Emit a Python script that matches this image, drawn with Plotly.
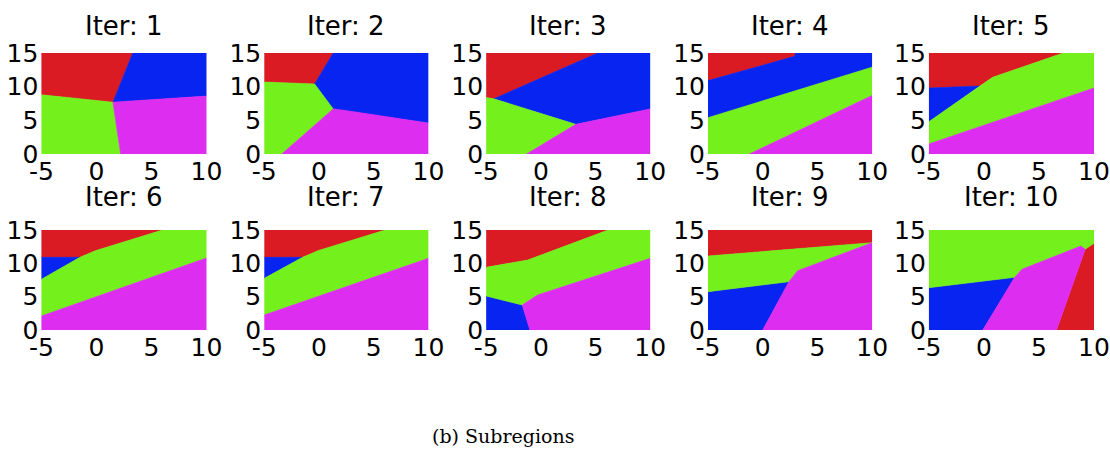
import plotly.graph_objects as go

# ---------------- data: region polygons (data coordinates) per iteration ----------------
it1_red = [(-5, 15), (3.3, 15), (1.5, 7.7), (-5, 8.8)]
it1_blue = [(3.3, 15), (10, 15), (10, 8.6), (1.5, 7.7)]
it1_green = [(-5, 8.8), (1.5, 7.7), (2.2, 0), (-5, 0)]
it1_magenta = [(1.5, 7.7), (10, 8.6), (10, 0), (2.2, 0)]

it2_red = [(-5, 15), (1.3, 15), (-0.4, 10.4), (-5, 10.7)]
it2_blue = [(1.3, 15), (10, 15), (10, 4.6), (2.3, 6.5), (1.3, 6.7), (-0.4, 10.4)]
it2_green = [(-5, 10.7), (-0.4, 10.4), (1.3, 6.7), (-3.4, 0), (-5, 0)]
it2_magenta = [(1.3, 6.7), (2.3, 6.5), (10, 4.6), (10, 0), (-3.4, 0)]

it3_red = [(-5, 15), (5.2, 15), (-4.3, 8.2), (-5, 8.4)]
it3_blue = [(5.2, 15), (10, 15), (10, 6.7), (3.2, 4.4), (-4.3, 8.2)]
it3_green = [(-5, 8.4), (-4.3, 8.2), (3.2, 4.4), (-1.3, 0), (-5, 0)]
it3_magenta = [(3.2, 4.4), (10, 6.7), (10, 0), (-1.3, 0)]

it4_red = [(-5, 15), (3.0, 15), (2.9, 14.5), (-5, 10.9)]
it4_blue = [(-5, 10.9), (2.9, 14.5), (3.0, 15), (10, 15), (10, 12.9), (-5, 5.4)]
it4_green = [(-5, 5.4), (10, 12.9), (10, 8.7), (-1.2, 0), (-5, 0)]
it4_magenta = [(-1.2, 0), (10, 8.7), (10, 0)]

it5_red = [(-5, 15), (7.2, 15), (0.8, 11.4), (-0.4, 10.1), (-5, 9.8)]
it5_blue = [(-5, 9.8), (-0.4, 10.1), (-5, 4.8)]
it5_green = [(-5, 4.8), (-0.4, 10.1), (0.8, 11.4), (7.2, 15), (10, 15), (10, 9.8), (-5, 1.5)]
it5_magenta = [(-5, 1.5), (10, 9.8), (10, 0), (-5, 0)]

it6_red = [(-5, 15), (6.0, 15), (-0.1, 11.9), (-1.5, 10.9), (-5, 10.9)]
it6_blue = [(-5, 10.9), (-1.5, 10.9), (-5, 7.6)]
it6_green = [(-5, 7.6), (-1.5, 10.9), (-0.1, 11.9), (6.0, 15), (10, 15), (10, 10.8), (-5, 2.1)]
it6_magenta = [(-5, 2.1), (10, 10.8), (10, 0), (-5, 0)]

it7_red = [(-5, 15), (6.05, 15), (-0.1, 11.9), (-1.5, 10.9), (-5, 10.9)]
it7_blue = [(-5, 10.9), (-1.5, 10.9), (-5, 7.75)]
it7_green = [(-5, 7.75), (-1.5, 10.9), (-0.1, 11.9), (6.05, 15), (10, 15), (10, 10.75), (-5, 2.25)]
it7_magenta = [(-5, 2.25), (10, 10.75), (10, 0), (-5, 0)]

it8_red = [(-5, 15), (6.15, 15), (-1.2, 10.5), (-5, 9.4)]
it8_green = [(-5, 9.4), (-1.2, 10.5), (6.15, 15), (10, 15), (10, 10.75), (-0.3, 5.25), (-1.7, 3.75), (-5, 5.1)]
it8_blue = [(-5, 5.1), (-1.7, 3.75), (-1.0, 0), (-5, 0)]
it8_magenta = [(-1.7, 3.75), (-0.3, 5.25), (10, 10.75), (10, 0), (-1.0, 0)]

it9_red = [(-5, 15), (10, 15), (10, 13.1), (-5, 11.1)]
it9_green = [(-5, 11.1), (10, 13.1), (3.2, 8.9), (2.4, 7.25), (-5, 5.75)]
it9_blue = [(-5, 5.75), (2.4, 7.25), (0.0, 0), (-5, 0)]
it9_magenta = [(2.4, 7.25), (3.2, 8.9), (10, 13.1), (10, 0), (0.0, 0)]

it10_green = [(-5, 15), (10, 15), (10, 13.0), (9.2, 12.1), (8.8, 12.6), (3.45, 9.1), (2.8, 7.9), (-5, 6.35)]
it10_blue = [(-5, 6.35), (2.8, 7.9), (-0.1, 0), (-5, 0)]
it10_magenta = [(2.8, 7.9), (3.45, 9.1), (8.8, 12.6), (9.2, 12.1), (6.6, 0), (-0.1, 0)]
it10_red = [(9.2, 12.1), (10, 13.0), (10, 0), (6.6, 0)]

iterations = [1, 2, 3, 4, 5, 6, 7, 8, 9, 10]
x_ticks = [-5, 0, 5, 10]
x_tick_text = ["-5", "0", "5", "10"]
y_ticks = [0, 5, 10, 15]
y_tick_text = ["0", "5", "10", "15"]
caption = "(b) Subregions"

regions = [
    {"red": it1_red, "blue": it1_blue, "green": it1_green, "magenta": it1_magenta},
    {"red": it2_red, "blue": it2_blue, "green": it2_green, "magenta": it2_magenta},
    {"red": it3_red, "blue": it3_blue, "green": it3_green, "magenta": it3_magenta},
    {"red": it4_red, "blue": it4_blue, "green": it4_green, "magenta": it4_magenta},
    {"red": it5_red, "blue": it5_blue, "green": it5_green, "magenta": it5_magenta},
    {"red": it6_red, "blue": it6_blue, "green": it6_green, "magenta": it6_magenta},
    {"red": it7_red, "blue": it7_blue, "green": it7_green, "magenta": it7_magenta},
    {"red": it8_red, "blue": it8_blue, "green": it8_green, "magenta": it8_magenta},
    {"red": it9_red, "blue": it9_blue, "green": it9_green, "magenta": it9_magenta},
    {"red": it10_red, "blue": it10_blue, "green": it10_green, "magenta": it10_magenta},
]

# ---------------- styles / layout ----------------
COLORS = {"red": "#da1b24", "blue": "#0824f0", "green": "#74f01c", "magenta": "#dd2df0"}
W, H = 1110, 450
# the rendered plotting area occupies screen px x 18..1086, y 14..435
PX0, PXW, PY0, PYH = 18, 1068, 14, 421


def clamp(v):
    return max(0.0, min(1.0, v))


def px_to_paper_x(px):
    return (px - PX0) / PXW


def px_to_paper_y(py):
    return 1 - (py - PY0) / PYH


col_px = [(47, 210), (267, 429), (486, 648), (705, 867), (923, 1086)]
row_px = [(53, 154), (230, 330)]
title_y_px = [26, 197]

fig = go.Figure()
layout = dict(
    width=W, height=H, margin=dict(l=0, r=0, t=0, b=0),
    paper_bgcolor="white", plot_bgcolor="white", showlegend=False,
    annotations=[],
)
axis_font = dict(family="DejaVu Sans, Arial", size=25, color="black")

for i, it in enumerate(iterations):
    r, c = divmod(i, 5)
    k = i + 1
    xa = "x" if k == 1 else f"x{k}"
    ya = "y" if k == 1 else f"y{k}"
    for name, poly in regions[i].items():
        xs = [p[0] for p in poly] + [poly[0][0]]
        ys = [p[1] for p in poly] + [poly[0][1]]
        fig.add_trace(go.Scatter(
            x=xs, y=ys, mode="lines", fill="toself",
            fillcolor=COLORS[name], line=dict(color=COLORS[name], width=0.6),
            hoverinfo="skip", xaxis=xa, yaxis=ya,
        ))
    x0, x1 = col_px[c]
    y0, y1 = row_px[r]
    layout["xaxis" if k == 1 else f"xaxis{k}"] = dict(
        domain=[clamp(px_to_paper_x(x0)), clamp(px_to_paper_x(x1))], range=[-5, 10],
        tickvals=x_ticks, ticktext=x_tick_text,
        showgrid=False, zeroline=False, showline=False, ticks="",
        tickfont=axis_font, anchor=ya, fixedrange=True,
    )
    layout["yaxis" if k == 1 else f"yaxis{k}"] = dict(
        domain=[clamp(px_to_paper_y(y1)), clamp(px_to_paper_y(y0))], range=[0, 15],
        tickvals=y_ticks, ticktext=y_tick_text,
        showgrid=False, zeroline=False, showline=False, ticks="",
        tickfont=axis_font, anchor=xa, ticklabelstandoff=2, fixedrange=True,
    )
    layout["annotations"].append(dict(
        text=f"Iter: {it}", x=px_to_paper_x((x0 + x1) / 2), y=px_to_paper_y(title_y_px[r]),
        xref="paper", yref="paper", xanchor="center", yanchor="middle",
        showarrow=False, font=dict(family="DejaVu Sans, Arial", size=26, color="black"),
    ))

layout["annotations"].append(dict(
    text=caption, x=px_to_paper_x(503), y=px_to_paper_y(436), xref="paper", yref="paper",
    xanchor="center", yanchor="middle", showarrow=False,
    font=dict(family="DejaVu Serif, Liberation Serif, serif", size=19, color="black"),
))

fig.update_layout(**layout)
fig.write_html("out.html")
